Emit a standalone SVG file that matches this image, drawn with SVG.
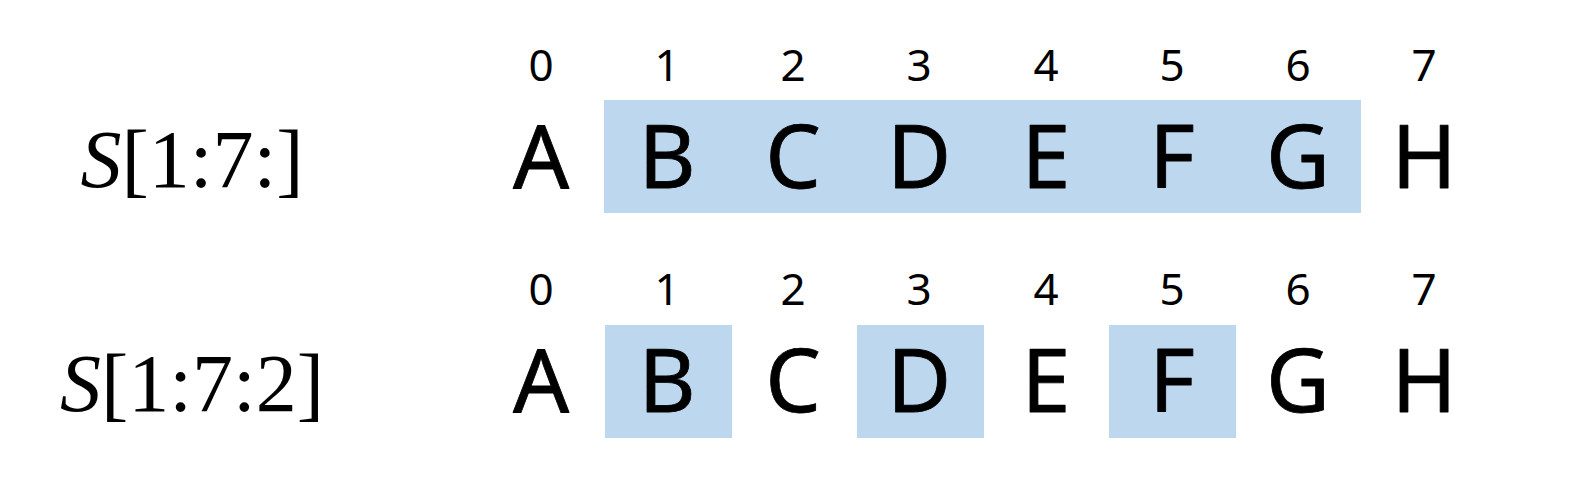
<svg xmlns="http://www.w3.org/2000/svg" width="1580" height="480" viewBox="0 0 1580 480">
<style>
.hl{fill:#BDD7EE;}
.ch{font-family:"Noto Sans","DejaVu Sans",sans-serif;font-size:88px;text-anchor:middle;fill:#000;stroke:#000;stroke-width:0.8;stroke-linejoin:round;}
.ix{font-family:"Noto Sans","DejaVu Sans",sans-serif;font-size:44px;text-anchor:middle;fill:#000;}
.lb{font-family:"Liberation Serif","Times New Roman",serif;font-size:82px;text-anchor:middle;fill:#000;}
.it{font-style:italic;}
</style>
<rect width="1580" height="480" fill="#fff"/>
<g id="row1">
  <rect class="hl" x="604" y="100" width="757" height="113"/>
  <text class="lb" x="192" y="187"><tspan class="it">S</tspan>[1:7:]</text>
  <g class="ix">
    <text x="541" y="81">0</text><text x="667" y="81">1</text><text x="793" y="81">2</text><text x="919" y="81">3</text>
    <text x="1046" y="81">4</text><text x="1172" y="81">5</text><text x="1298" y="81">6</text><text x="1424" y="81">7</text>
  </g>
  <g class="ch">
    <text x="541" y="188">A</text><text x="667" y="188">B</text><text x="793" y="188">C</text><text x="919" y="188">D</text>
    <text x="1046" y="188">E</text><text x="1172" y="188">F</text><text x="1298" y="188">G</text><text x="1424" y="188">H</text>
  </g>
</g>
<g id="row2">
  <rect class="hl" x="605" y="325" width="127" height="113"/>
  <rect class="hl" x="857" y="325" width="127" height="113"/>
  <rect class="hl" x="1109" y="325" width="127" height="113"/>
  <text class="lb" x="192" y="411"><tspan class="it">S</tspan>[1:7:2]</text>
  <g class="ix">
    <text x="541" y="305">0</text><text x="667" y="305">1</text><text x="793" y="305">2</text><text x="919" y="305">3</text>
    <text x="1046" y="305">4</text><text x="1172" y="305">5</text><text x="1298" y="305">6</text><text x="1424" y="305">7</text>
  </g>
  <g class="ch">
    <text x="541" y="412">A</text><text x="667" y="412">B</text><text x="793" y="412">C</text><text x="919" y="412">D</text>
    <text x="1046" y="412">E</text><text x="1172" y="412">F</text><text x="1298" y="412">G</text><text x="1424" y="412">H</text>
  </g>
</g>
</svg>
